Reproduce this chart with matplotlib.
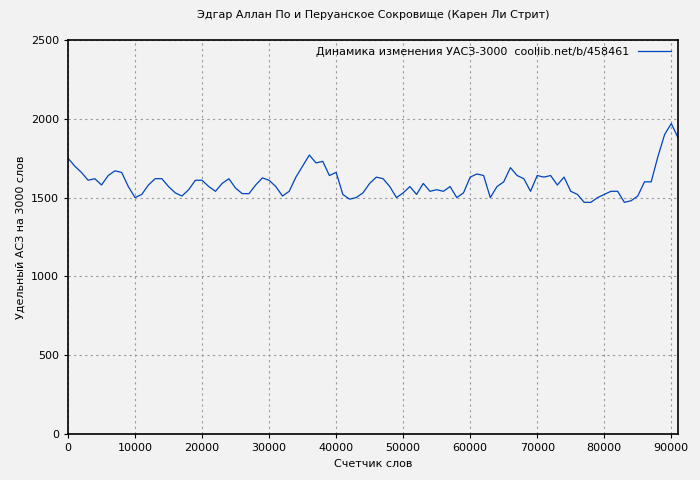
import matplotlib
matplotlib.use('Agg')
import matplotlib.pyplot as plt

# word counter positions and specific ASZ values
words = list(range(0, 92000, 1000))
values = [1750, 1700, 1660, 1610, 1620, 1580, 1640, 1670, 1660, 1570,
          1500, 1520, 1580, 1620, 1620, 1570, 1530, 1510, 1550, 1610,
          1610, 1570, 1540, 1590, 1620, 1560, 1525, 1525, 1580, 1625,
          1610, 1570, 1510, 1540, 1630, 1700, 1770, 1720, 1730, 1640,
          1660, 1520, 1490, 1500, 1530, 1590, 1630, 1620, 1570, 1500,
          1530, 1570, 1520, 1590, 1540, 1550, 1540, 1570, 1500, 1530,
          1630, 1650, 1640, 1500, 1570, 1600, 1690, 1640, 1620, 1540,
          1640, 1630, 1640, 1580, 1630, 1540, 1520, 1470, 1470, 1500,
          1520, 1540, 1540, 1470, 1480, 1510, 1600, 1600, 1760, 1900,
          1970, 1880]

fig = plt.figure(figsize=(7, 4.8), dpi=100)
fig.patch.set_facecolor('#f2f2f2')
ax = fig.add_axes([68/700, 46/480, 610/700, 394/480])
ax.set_facecolor('#f2f2f2')

ax.plot(words, values, color='#0044bb', linewidth=0.9,
        label='Динамика изменения УАСЗ-3000  coollib.net/b/458461')

ax.set_xlim(0, 91000)
ax.set_ylim(0, 2500)
ax.set_xticks(range(0, 91000, 10000))
ax.set_yticks(range(0, 2501, 500))
ax.grid(True, color='#999999', linestyle=(0, (2, 3)), linewidth=0.8)
ax.tick_params(labelsize=8, direction='out', length=3)
for s in ax.spines.values():
    s.set_linewidth(1.2)

ax.set_title('Эдгар Аллан По и Перуанское Сокровище (Карен Ли Стрит)', fontsize=8, pad=16)
ax.set_xlabel('Счетчик слов', fontsize=8)
ax.set_ylabel('Удельный АСЗ на 3000 слов', fontsize=8)
leg = ax.legend(loc='upper right', fontsize=8, frameon=False, markerfirst=False,
                handlelength=3, borderaxespad=0.2)

fig.savefig('out.png', dpi=100, facecolor=fig.get_facecolor())
